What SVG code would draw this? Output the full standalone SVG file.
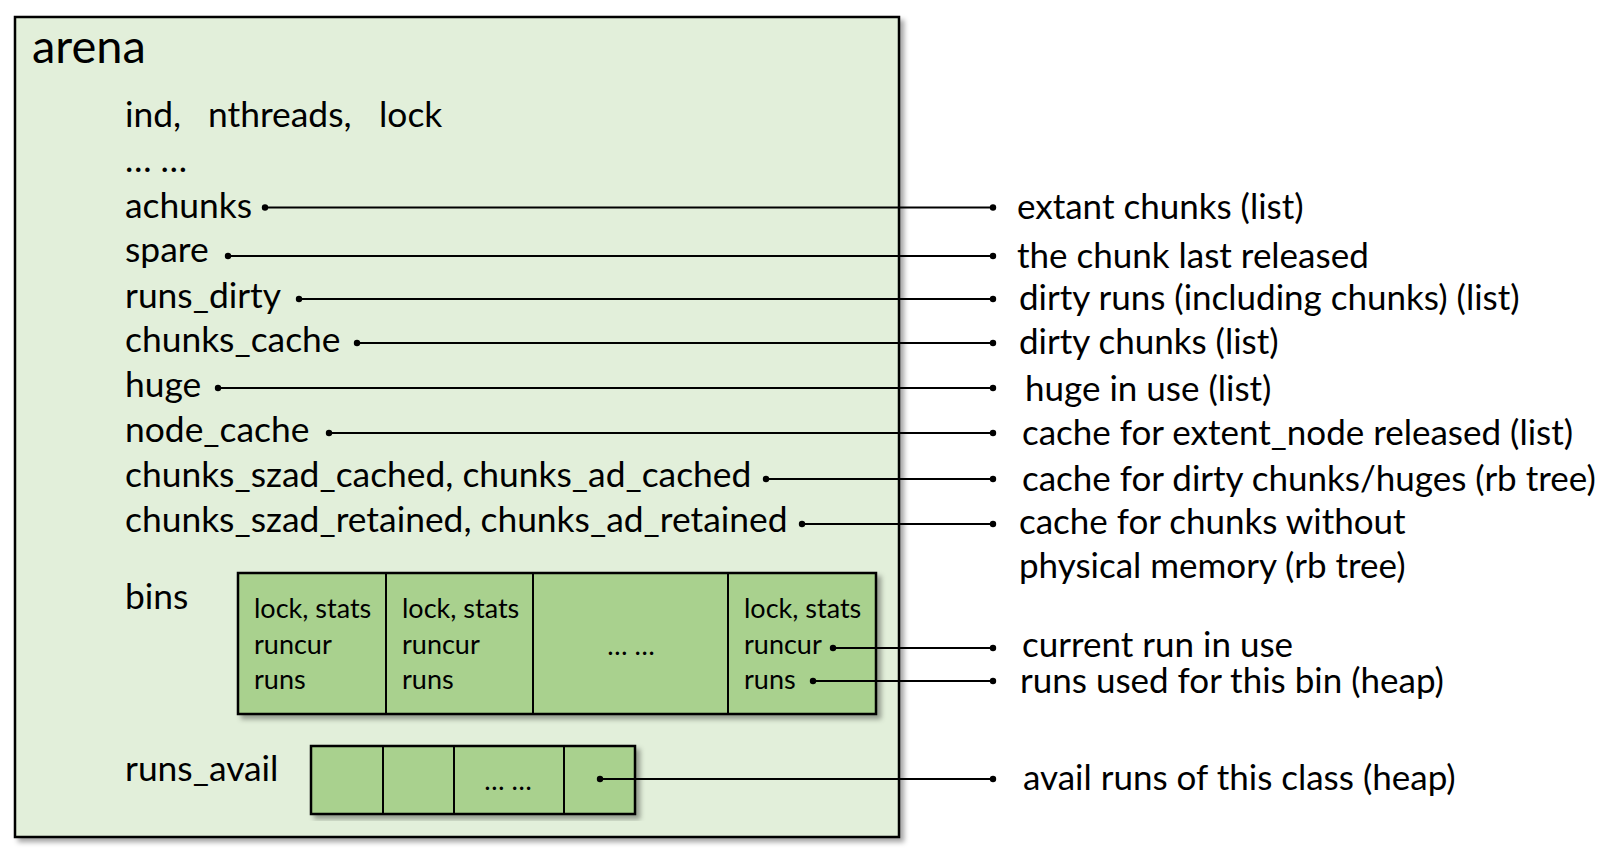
<svg xmlns="http://www.w3.org/2000/svg" width="1618" height="851" viewBox="0 0 1618 851">
<style>
  .lbl { font-family: Lato, "Liberation Sans", sans-serif; font-size: 35.4px; fill: #000; }
  .desc { font-family: Lato, "Liberation Sans", sans-serif; font-size: 35px; fill: #000; }
  .title { font-family: Lato, "Liberation Sans", sans-serif; font-size: 47px; fill: #000; }
  .cell { font-family: Lato, "Liberation Sans", sans-serif; font-size: 27px; fill: #000; }
  .arena { fill: #E2EFDA; stroke: #000; stroke-width: 2.5; }
  .box { fill: #A9D18E; stroke: #000; stroke-width: 2.5; }
  .div { stroke: #000; stroke-width: 2; fill: none; }
  .conn { stroke: #000; stroke-width: 2; fill: none; marker-start: url(#dot); marker-end: url(#dot); }
</style>
<defs>
  <marker id="dot" viewBox="-5 -5 10 10" markerWidth="8" markerHeight="8" markerUnits="userSpaceOnUse" refX="0" refY="0" orient="auto">
    <circle cx="0" cy="0" r="4" fill="#000"/>
  </marker>
  <filter id="shadow" x="-5%" y="-5%" width="115%" height="115%">
    <feDropShadow dx="4" dy="4" stdDeviation="2.5" flood-color="#000" flood-opacity="0.35"/>
  </filter>
</defs>
<rect width="1618" height="851" fill="#fff"/>

<g id="arena">
  <rect class="arena" x="15" y="17" width="884" height="820" filter="url(#shadow)"/>
  <text class="title" x="32" y="63">arena</text>
  <text class="lbl" y="127"><tspan x="125">ind,</tspan><tspan x="208">nthreads,</tspan><tspan x="379">lock</tspan></text>
  <text class="lbl" x="125" y="172">… …</text>
  <text class="lbl" x="125" y="218">achunks</text>
  <text class="lbl" x="125" y="262">spare</text>
  <text class="lbl" x="125" y="308">runs_dirty</text>
  <text class="lbl" x="125" y="352">chunks_cache</text>
  <text class="lbl" x="125" y="397">huge</text>
  <text class="lbl" x="125" y="442">node_cache</text>
  <text class="lbl" x="125" y="487">chunks_szad_cached, chunks_ad_cached</text>
  <text class="lbl" x="125" y="532">chunks_szad_retained, chunks_ad_retained</text>
  <text class="lbl" x="125" y="609">bins</text>
  <text class="lbl" x="125" y="781">runs_avail</text>
</g>

<g id="bins">
  <rect class="box" x="238" y="573" width="638" height="141" filter="url(#shadow)"/>
  <path class="div" d="M386 573V714M533 573V714M728 573V714"/>
  <text class="cell" x="254" y="618">lock, stats</text>
  <text class="cell" x="254" y="654">runcur</text>
  <text class="cell" x="254" y="689">runs</text>
  <text class="cell" x="402" y="618">lock, stats</text>
  <text class="cell" x="402" y="654">runcur</text>
  <text class="cell" x="402" y="689">runs</text>
  <text class="cell" x="631" y="655" text-anchor="middle">… …</text>
  <text class="cell" x="744" y="618">lock, stats</text>
  <text class="cell" x="744" y="654">runcur</text>
  <text class="cell" x="744" y="689">runs</text>
</g>

<g id="runs_avail">
  <rect class="box" x="311" y="746" width="324" height="68" filter="url(#shadow)"/>
  <path class="div" d="M383 746V814M454 746V814M564 746V814"/>
  <text class="cell" x="508" y="790" text-anchor="middle">… …</text>
</g>

<g id="connectors">
  <path class="conn" d="M265 207.5H993"/>
  <path class="conn" d="M228 256H993"/>
  <path class="conn" d="M299 299H993"/>
  <path class="conn" d="M357 343H993"/>
  <path class="conn" d="M218 388H993"/>
  <path class="conn" d="M329 433H993"/>
  <path class="conn" d="M766 479H993"/>
  <path class="conn" d="M802 524H993"/>
  <path class="conn" d="M833 648H993"/>
  <path class="conn" d="M813 681H993"/>
  <path class="conn" d="M600 779H993"/>
</g>

<g id="descriptions">
  <text class="desc" x="1017" y="219">extant chunks (list)</text>
  <text class="desc" x="1017" y="268">the chunk last released</text>
  <text class="desc" x="1019" y="310">dirty runs (including chunks) (list)</text>
  <text class="desc" x="1019" y="354">dirty chunks (list)</text>
  <text class="desc" x="1025" y="401">huge in use (list)</text>
  <text class="desc" x="1022" y="445">cache for extent_node released (list)</text>
  <text class="desc" x="1022" y="491">cache for dirty chunks/huges (rb tree)</text>
  <text class="desc" x="1019" y="534">cache for chunks without</text>
  <text class="desc" x="1019" y="578">physical memory (rb tree)</text>
  <text class="desc" x="1022" y="657">current run in use</text>
  <text class="desc" x="1020" y="693">runs used for this bin (heap)</text>
  <text class="desc" x="1023" y="790">avail runs of this class (heap)</text>
</g>
</svg>
